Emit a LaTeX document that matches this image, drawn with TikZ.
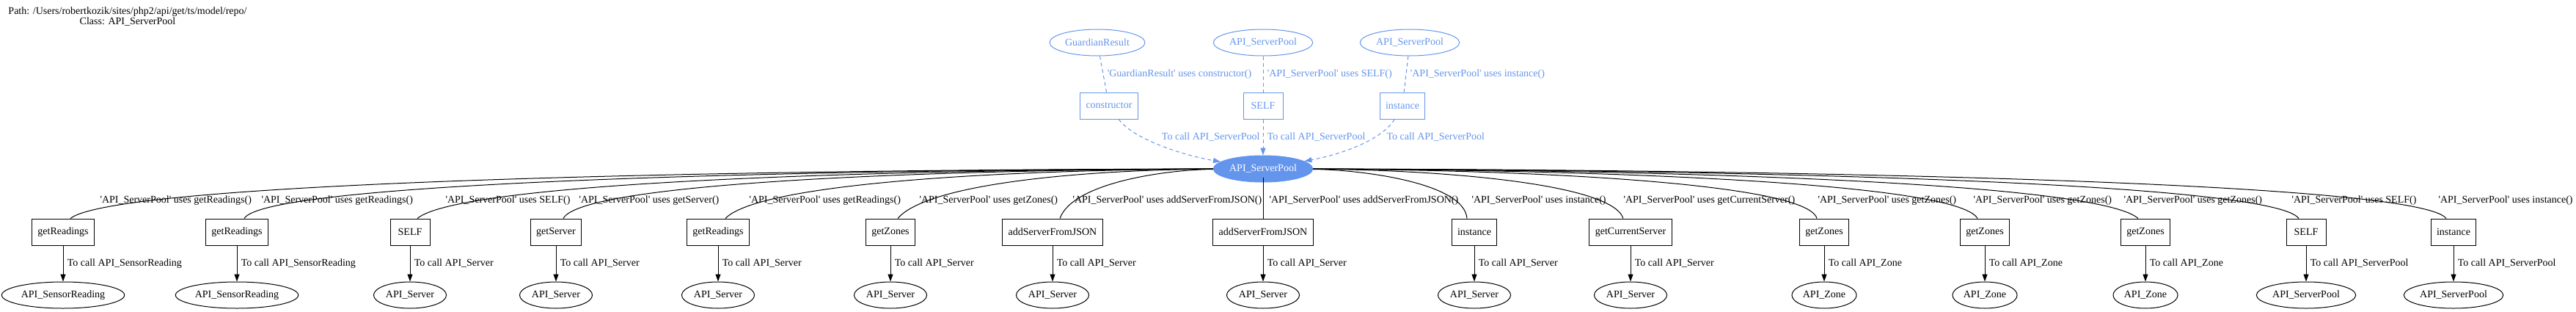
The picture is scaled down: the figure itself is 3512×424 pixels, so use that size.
\documentclass[tikz,border=0pt]{standalone}
\usepackage{fontspec}
\setmainfont{Liberation Serif}
\usepackage{xcolor}
\usepackage{tikz}
\usetikzlibrary{arrows.meta,shapes.geometric,calc}
\definecolor{cornflower}{HTML}{6495ED}

\begin{document}
\begin{tikzpicture}[x=1pt,y=-1pt,line width=1pt,
  every node/.style={font=\fontsize{14}{14}\selectfont},
  fn/.style={draw,rectangle,minimum width=54pt,minimum height=36pt,inner xsep=8pt},
  cls/.style={draw,ellipse,minimum width=54pt,minimum height=36pt,inner xsep=2pt},
  bluefn/.style={fn,draw=cornflower,text=cornflower},
  bluecls/.style={cls,draw=cornflower,text=cornflower},
  pool/.style={cls,fill=cornflower,draw=cornflower,text=white},
  bluedash/.style={draw=cornflower,dashed,dash pattern=on 5pt off 4pt},
  calls/.style={-{Triangle[length=10pt,width=7pt]}},
  lbl/.style={inner sep=0pt},
]
\useasboundingbox (0,0) rectangle (3512,424);
\node[align=center] (title) at (174,23) {Path: /Users/robertkozik/sites/php2/api/get/ts/model/repo/\\Class: API\_ServerPool};

\node[bluecls] (guardian) at (1496,58) {GuardianResult};
\node[bluecls] (poolself) at (1722,58) {API\_ServerPool};
\node[bluecls] (poolinst) at (1922,58) {API\_ServerPool};
\node[bluefn] (constructor) at (1512,144) {constructor};
\node[bluefn] (self) at (1722,144) {SELF};
\node[bluefn] (instance) at (1912,144) {instance};
\node[pool] (pool) at (1722,230) {API\_ServerPool};

\draw[bluedash] (guardian) -- (constructor) node[midway,right=2pt,text=cornflower] (gu) {\textquotesingle GuardianResult\textquotesingle{} uses constructor()};
\draw[bluedash] (poolself) -- (self) node[midway,right=2pt,text=cornflower] (su) {\textquotesingle API\_ServerPool\textquotesingle{} uses SELF()};
\draw[bluedash] (poolinst) -- (instance) node[midway,right=2pt,text=cornflower] (iu) {\textquotesingle API\_ServerPool\textquotesingle{} uses instance()};
\draw[bluedash,calls] (constructor) .. controls (1545,190) and (1615,212) .. (pool);
\draw[bluedash,calls] (self) -- (pool) node[midway,right=2pt,text=cornflower] (sc) {To call API\_ServerPool};
\draw[bluedash,calls] (instance) .. controls (1885,190) and (1830,210) .. (pool);
\node[lbl,anchor=east,text=cornflower] (cc) at (1718,187) {To call API\_ServerPool};
\node[lbl,anchor=west,text=cornflower] (ic) at (1890,187) {To call API\_ServerPool};

\foreach \i/\x/\fname/\target/\ux in {
  1/86/getReadings/API\_SensorReading/136,
  2/323/getReadings/API\_SensorReading/356,
  3/559/SELF/API\_Server/607,
  4/758/getServer/API\_Server/789,
  5/979/getReadings/API\_Server/1021,
  6/1214/getZones/API\_Server/1253,
  7/1435/addServerFromJSON/API\_Server/1462,
  8/1722/addServerFromJSON/API\_Server/1730,
  9/2010/instance/API\_Server/2006,
  10/2223/getCurrentServer/API\_Server/2213,
  11/2487/getZones/API\_Zone/2478,
  12/2706/getZones/API\_Zone/2690,
  13/2925/getZones/API\_Zone/2895,
  14/3144/SELF/API\_ServerPool/3124,
  15/3345/instance/API\_ServerPool/3324}
{
  \pgfmathsetmacro\s{sign(1722-\x)}
  \pgfmathsetmacro\cx{\x+0.55*(1722-\x)}
  \pgfmathsetmacro\ex{\x+10*\s}
  \pgfmathsetmacro\cxx{\ex+2*(\ux-8-\ex)}
  \node[fn] (f\i) at (\x,316) {\fname};
  \node[cls] (c\i) at (\x,402) {\target};
  \draw (pool) .. controls (\cx,231) and (\cxx,248) .. ([xshift=10*\s]f\i.north);
  \node[lbl,anchor=west] (u\i) at (\ux,273) {\textquotesingle API\_ServerPool\textquotesingle{} uses \fname()};
  \draw[calls] (f\i) -- (c\i) node[midway,right=2pt] (t\i) {To call \target};
}
\end{tikzpicture}
\end{document}
